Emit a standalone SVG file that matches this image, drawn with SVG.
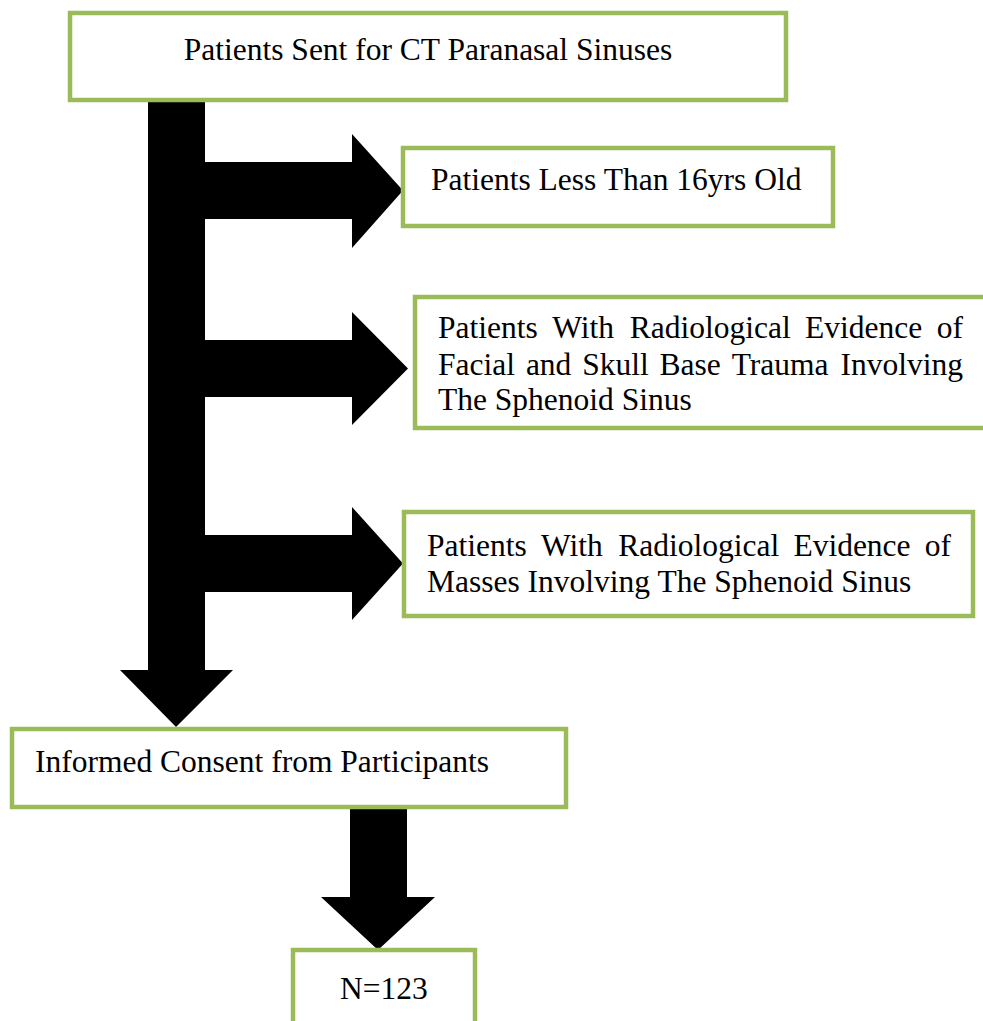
<svg xmlns="http://www.w3.org/2000/svg" width="983" height="1021" viewBox="0 0 983 1021">
<style>
.box{fill:#fff;stroke:#9BBB59;stroke-width:4.5}
.arr{fill:#000}
text{font-family:"Liberation Serif","Times New Roman",serif;font-size:31.5px;fill:#000}
</style>
<rect width="983" height="1021" fill="#fff"/>
<g id="connectors">
<polygon class="arr" points="148,100 205,100 205,670 233,670 176,727 120,670 148,670"/>
<polygon class="arr" points="204,162 352,162 352,134 403,190.5 352,248 352,219 204,219"/>
<polygon class="arr" points="204,340 352,340 352,312 408,368.5 352,425 352,397 204,397"/>
<polygon class="arr" points="204,535 352,535 352,507 403,563.5 352,620 352,592 204,592"/>
<polygon class="arr" points="350,806 407,806 407,897 435,897 378,950 321,897 350,897"/>
</g>
<g id="n1">
<rect class="box" x="70" y="13" width="716" height="87"/>
<text x="428" y="60" text-anchor="middle">Patients Sent for CT Paranasal Sinuses</text>
</g>
<g id="n2">
<rect class="box" x="403" y="148" width="430" height="78"/>
<text x="431" y="190">Patients Less Than 16yrs Old</text>
</g>
<g id="n3">
<rect class="box" x="415" y="297" width="580" height="131"/>
<text y="338"><tspan x="438">Patients</tspan><tspan x="552.2">With</tspan><tspan x="629.7">Radiological</tspan><tspan x="805.1">Evidence</tspan></text>
<text x="963" y="338" text-anchor="end">of</text>
<text y="375"><tspan x="438">Facial</tspan><tspan x="525.9">and</tspan><tspan x="582.2">Skull</tspan><tspan x="659.6">Base</tspan><tspan x="731.7">Trauma</tspan></text>
<text x="963" y="375" text-anchor="end">Involving</text>
<text x="438" y="410">The Sphenoid Sinus</text>
</g>
<g id="n4">
<rect class="box" x="404" y="512" width="569" height="104"/>
<text y="556"><tspan x="427">Patients</tspan><tspan x="541">With</tspan><tspan x="618.2">Radiological</tspan><tspan x="793.4">Evidence</tspan></text>
<text x="951" y="556" text-anchor="end">of</text>
<text x="427" y="592">Masses Involving The Sphenoid Sinus</text>
</g>
<g id="n5">
<rect class="box" x="12" y="729" width="554" height="78"/>
<text x="35" y="772">Informed Consent from Participants</text>
</g>
<g id="n6">
<rect class="box" x="293" y="950" width="182" height="80"/>
<text x="384" y="999" text-anchor="middle">N=123</text>
</g>
</svg>
